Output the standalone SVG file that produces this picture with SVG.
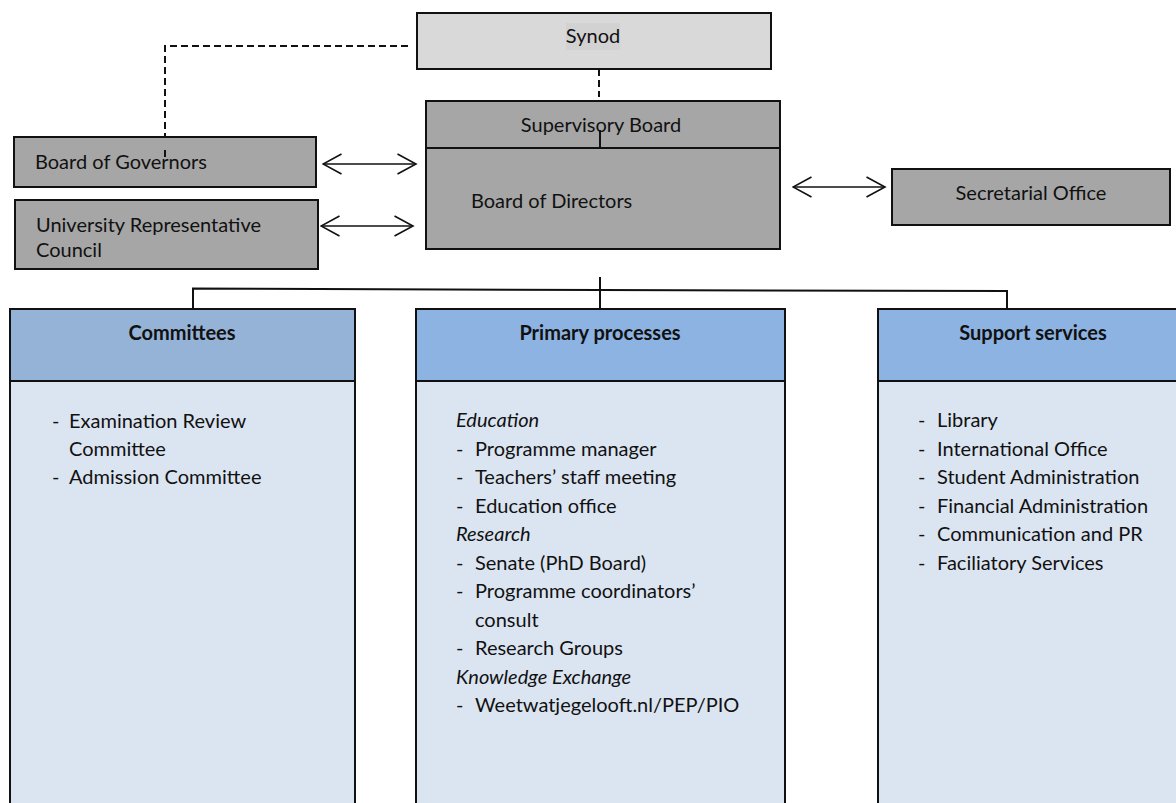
<svg xmlns="http://www.w3.org/2000/svg" width="1176" height="803" viewBox="0 0 1176 803">
  <style>
    text { font-family: "Lato", "Liberation Sans", sans-serif; font-size: 20px; fill: #111; }
    .b { font-weight: bold; }
    .i { font-style: italic; }
    .mid { text-anchor: middle; }
    .box { stroke: #111; stroke-width: 2; }
    .gray { fill: #a6a6a6; }
    .synod { fill: #d9d9d9; }
    .hdr1 { fill: #95b3d7; }
    .hdr2 { fill: #8db3e2; }
    .body { fill: #dbe5f1; }
    .line { fill: none; stroke: #111; stroke-width: 2; }
    .dash { fill: none; stroke: #111; stroke-width: 2; stroke-dasharray: 7 4; }
    .arrow { fill: none; stroke: #111; stroke-width: 1.6; marker-start: url(#open); marker-end: url(#open); }
  </style>
  <defs>
    <marker id="open" viewBox="0 0 21 22" refX="19.5" refY="11" markerWidth="21" markerHeight="22" markerUnits="userSpaceOnUse" orient="auto-start-reverse">
      <path d="M1,1 L19.5,11 L1,21" fill="none" stroke="#111" stroke-width="1.6"/>
    </marker>
  </defs>

  <rect width="1176" height="803" fill="#ffffff"/>

  <!-- connectors -->
  <g id="connectors">
    <path class="dash" d="M408,46 H165 V157"/>
    <path class="dash" d="M599,69 V97"/>
    <path class="arrow" d="M323,164 H416"/>
    <path class="arrow" d="M321,226 H413"/>
    <path class="arrow" d="M793,187 H885"/>
    <path class="line" d="M600,277 V309"/>
    <path class="line" d="M193,309 V288.5 L600,290 L1007,291 V309"/>
  </g>

  <g id="synod">
    <rect class="box synod" x="417" y="13" width="354" height="56"/>
    <rect x="566" y="23" width="54" height="27" fill="#d2d2d2"/>
    <text class="mid" x="593" y="43">Synod</text>
  </g>

  <g id="boards">
    <rect class="box gray" x="426" y="101" width="354" height="148"/>
    <line class="line" x1="426" y1="148" x2="780" y2="148"/>
    <text class="mid" x="601" y="132">Supervisory Board</text>
    <line class="line" x1="600" y1="130" x2="600" y2="148"/>
    <text x="471" y="208">Board of Directors</text>
  </g>

  <g id="board-of-governors">
    <rect class="box gray" x="14" y="137" width="302" height="50"/>
    <text x="35" y="169">Board of Governors</text>
    <line class="line" x1="165" y1="150" x2="165" y2="157"/>
  </g>

  <g id="university-council">
    <rect class="box gray" x="15" y="200" width="303" height="69"/>
    <text x="36" y="232">University Representative</text>
    <text x="36" y="257">Council</text>
  </g>

  <g id="secretarial-office">
    <rect class="box gray" x="892" y="169" width="278" height="56"/>
    <text class="mid" x="1031" y="200">Secretarial Office</text>
  </g>

  <g id="committees">
    <rect class="box body" x="10" y="309" width="345" height="520"/>
    <rect class="box hdr1" x="10" y="309" width="345" height="72"/>
    <text class="b mid" x="182" y="340">Committees</text>
    <text x="52" y="428">-</text><text x="69" y="428">Examination Review</text>
    <text x="69" y="456">Committee</text>
    <text x="52" y="484">-</text><text x="69" y="484">Admission Committee</text>
  </g>

  <g id="primary-processes">
    <rect class="box body" x="416" y="309" width="369" height="520"/>
    <rect class="box hdr2" x="416" y="309" width="369" height="72"/>
    <text class="b mid" x="600" y="340">Primary processes</text>
    <text class="i" x="456" y="427">Education</text>
    <text x="456" y="455.5">-</text><text x="475" y="455.5">Programme manager</text>
    <text x="456" y="484">-</text><text x="475" y="484">Teachers’ staff meeting</text>
    <text x="456" y="512.5">-</text><text x="475" y="512.5">Education office</text>
    <text class="i" x="456" y="541">Research</text>
    <text x="456" y="569.5">-</text><text x="475" y="569.5">Senate (PhD Board)</text>
    <text x="456" y="598">-</text><text x="475" y="598">Programme coordinators’</text>
    <text x="475" y="626.5">consult</text>
    <text x="456" y="655">-</text><text x="475" y="655">Research Groups</text>
    <text class="i" x="456" y="683.5">Knowledge Exchange</text>
    <text x="456" y="712">-</text><text x="475" y="712">Weetwatjegelooft.nl/PEP/PIO</text>
  </g>

  <g id="support-services">
    <rect class="box body" x="878" y="309" width="320" height="520"/>
    <rect class="box hdr2" x="878" y="309" width="320" height="72"/>
    <text class="b mid" x="1033" y="340">Support services</text>
    <text x="918" y="427">-</text><text x="937" y="427">Library</text>
    <text x="918" y="455.5">-</text><text x="937" y="455.5">International Office</text>
    <text x="918" y="484">-</text><text x="937" y="484">Student Administration</text>
    <text x="918" y="512.5">-</text><text x="937" y="512.5">Financial Administration</text>
    <text x="918" y="541">-</text><text x="937" y="541">Communication and PR</text>
    <text x="918" y="569.5">-</text><text x="937" y="569.5">Faciliatory Services</text>
  </g>
</svg>
